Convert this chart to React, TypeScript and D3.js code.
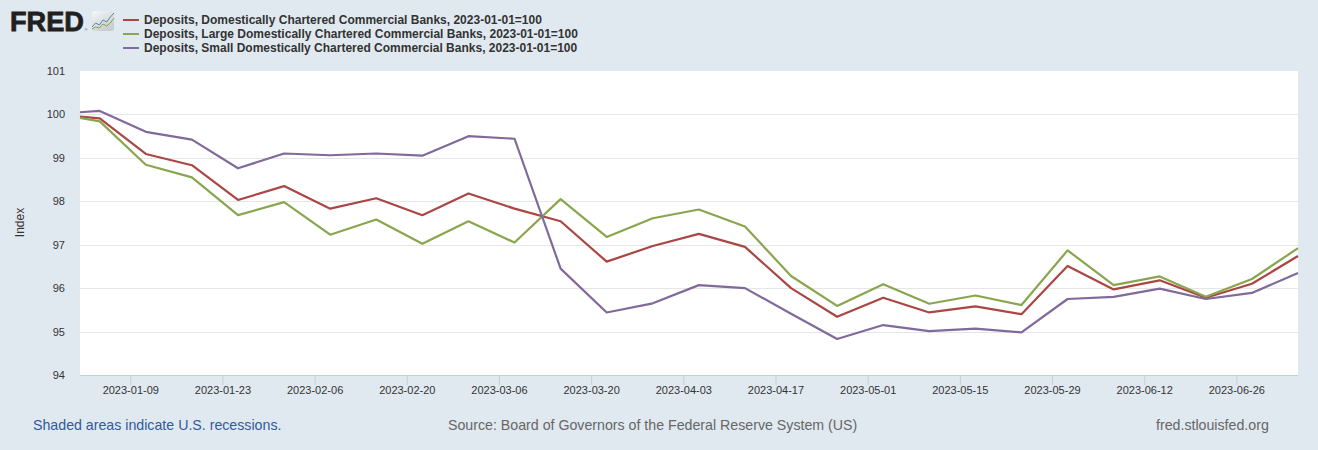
import React, { useEffect, useRef } from 'react';
import * as d3 from 'd3';

const dates = [
  '2023-01-01', '2023-01-04', '2023-01-11', '2023-01-18', '2023-01-25', '2023-02-01', '2023-02-08',
  '2023-02-15', '2023-02-22', '2023-03-01', '2023-03-08', '2023-03-15', '2023-03-22', '2023-03-29',
  '2023-04-05', '2023-04-12', '2023-04-19', '2023-04-26', '2023-05-03', '2023-05-10', '2023-05-17',
  '2023-05-24', '2023-05-31', '2023-06-07', '2023-06-14', '2023-06-21', '2023-06-28', '2023-07-05',
];
const allBanks = [
  99.95, 99.91, 99.09, 98.83, 98.03, 98.35, 97.83, 98.07, 97.68, 98.18, 97.83, 97.54, 96.61, 96.97,
  97.25, 96.95, 96.0, 95.34, 95.78, 95.44, 95.58, 95.4, 96.51, 95.97, 96.18, 95.78, 96.1, 96.74,
];
const largeBanks = [
  99.92, 99.84, 98.84, 98.55, 97.68, 97.98, 97.23, 97.58, 97.02, 97.54, 97.05, 98.05, 97.18, 97.61,
  97.81, 97.42, 96.28, 95.59, 96.09, 95.64, 95.83, 95.61, 96.87, 96.07, 96.27, 95.8, 96.21, 96.92,
];
const smallBanks = [
  100.05, 100.08, 99.6, 99.42, 98.76, 99.1, 99.06, 99.1, 99.05, 99.5, 99.44, 96.45, 95.44, 95.65,
  96.07, 96.0, 95.41, 94.83, 95.15, 95.01, 95.07, 94.98, 95.75, 95.8, 95.99, 95.75, 95.89, 96.35,
];
const seriesNames = [
  'Deposits, Domestically Chartered Commercial Banks, 2023-01-01=100',
  'Deposits, Large Domestically Chartered Commercial Banks, 2023-01-01=100',
  'Deposits, Small Domestically Chartered Commercial Banks, 2023-01-01=100',
];
const seriesColors = ['#aa4643', '#89a54e', '#80699b'];
const xTicks = [
  '2023-01-09', '2023-01-23', '2023-02-06', '2023-02-20', '2023-03-06', '2023-03-20', '2023-04-03',
  '2023-04-17', '2023-05-01', '2023-05-15', '2023-05-29', '2023-06-12', '2023-06-26',
];
const yTicks = [94, 95, 96, 97, 98, 99, 100, 101];
const logoLineA = [3, 7, 5, 10, 8, 13, 17];
const logoLineB = [1, 3, 2, 6, 4, 7, 12];

const FONT = 'Arial, "Liberation Sans", sans-serif';

const App: React.FC = () => {
  const ref = useRef<SVGSVGElement | null>(null);

  useEffect(() => {
    if (!ref.current) return;
    const svg = d3.select(ref.current);
    svg.selectAll('*').remove();

    const margin = { top: 71, right: 20, bottom: 75, left: 80 };
    const width = 1318;
    const height = 450;
    const innerWidth = width - margin.left - margin.right;
    const innerHeight = height - margin.top - margin.bottom;

    svg.append('rect').attr('width', width).attr('height', height).attr('fill', '#e1e9f0');

    const parse = d3.utcParse('%Y-%m-%d');
    const x = d3.scaleUtc()
      .domain([parse(dates[0])!, parse(dates[dates.length - 1])!])
      .range([0, innerWidth]);
    const y = d3.scaleLinear().domain([94, 101]).range([innerHeight, 0]);

    const g = svg.append('g').attr('transform', `translate(${margin.left},${margin.top})`);
    g.append('rect').attr('width', innerWidth).attr('height', innerHeight).attr('fill', '#fff');

    // grid lines
    g.selectAll('.grid-line')
      .data(yTicks.filter(d => d > 94 && d < 101))
      .enter()
      .append('line')
      .attr('x1', 0)
      .attr('x2', innerWidth)
      .attr('y1', d => Math.round(y(d)) + 0.5)
      .attr('y2', d => Math.round(y(d)) + 0.5)
      .attr('stroke', '#e6e6e6');

    // FRED draws its ticks a little left of the data's dates
    const tickShift = -2.4;
    const xAxis = g.append('g')
      .attr('transform', `translate(${tickShift},${innerHeight})`)
      .call(
        d3.axisBottom(x)
          .tickValues(xTicks.map(d => parse(d)!))
          .tickFormat(d => d3.utcFormat('%Y-%m-%d')(d as Date))
          .tickSize(10)
          .tickSizeOuter(0)
      );
    xAxis.select('.domain').remove();
    xAxis.selectAll('line').attr('stroke', '#c0d0e0');
    xAxis.selectAll('text')
      .attr('y', 11)
      .attr('fill', '#333')
      .style('font', `11px ${FONT}`);
    g.append('line')
      .attr('x1', 0)
      .attr('x2', innerWidth)
      .attr('y1', innerHeight + 0.5)
      .attr('y2', innerHeight + 0.5)
      .attr('stroke', '#c0d0e0');

    const yAxis = g.append('g').call(d3.axisLeft(y).tickValues(yTicks).tickFormat(d => String(d)).tickSize(0));
    yAxis.select('.domain').remove();
    yAxis.selectAll('text')
      .attr('x', -15)
      .attr('fill', '#333')
      .style('font', `11px ${FONT}`);

    svg.append('text')
      .attr('transform', `translate(24,222.5) rotate(-90)`)
      .attr('text-anchor', 'middle')
      .attr('fill', '#333')
      .style('font', `12px ${FONT}`)
      .text('Index');

    const line = d3.line<number>()
      .x((_, i) => x(parse(dates[i])!))
      .y(d => y(d))
      .curve(d3.curveLinear);

    [allBanks, largeBanks, smallBanks].forEach((values, i) => {
      g.append('path')
        .attr('d', line(values))
        .attr('fill', 'none')
        .attr('stroke', seriesColors[i])
        .attr('stroke-width', 2.2)
        .attr('stroke-linejoin', 'round');
    });

    // legend
    const legend = svg.append('g');
    seriesNames.forEach((name, i) => {
      const ly = 20 + i * 14;
      legend.append('line')
        .attr('x1', 123)
        .attr('x2', 139)
        .attr('y1', ly)
        .attr('y2', ly)
        .attr('stroke', seriesColors[i])
        .attr('stroke-width', 2);
      legend.append('text')
        .attr('x', 144)
        .attr('y', ly + 4)
        .attr('fill', '#333')
        .style('font', `bold 12px ${FONT}`)
        .text(name);
    });

    // logo
    const logo = svg.append('g');
    logo.append('text')
      .attr('x', 10)
      .attr('y', 31)
      .attr('fill', '#231f20')
      .attr('stroke', '#231f20')
      .attr('stroke-width', 0.8)
      .attr('textLength', 74)
      .attr('lengthAdjust', 'spacingAndGlyphs')
      .style('font', `bold 28px ${FONT}`)
      .text('FRED');
    logo.append('text')
      .attr('x', 84.5)
      .attr('y', 31)
      .attr('fill', '#555')
      .style('font', `4px ${FONT}`)
      .text('®');
    const grad = svg.append('defs').append('linearGradient')
      .attr('id', 'logo-grad')
      .attr('x1', 0)
      .attr('y1', 0)
      .attr('x2', 0.6)
      .attr('y2', 1);
    grad.append('stop').attr('offset', 0).attr('stop-color', '#f6f8f9');
    grad.append('stop').attr('offset', 1).attr('stop-color', '#c9cdd0');
    logo.append('rect')
      .attr('x', 92)
      .attr('y', 11)
      .attr('width', 22)
      .attr('height', 20)
      .attr('rx', 2.5)
      .attr('fill', 'url(#logo-grad)');
    const lx = d3.scaleLinear().domain([0, logoLineA.length - 1]).range([92, 114]);
    const ly = d3.scaleLinear().domain([0, 18]).range([30, 12]);
    [[logoLineA, '#5a86a8'], [logoLineB, '#7fa34e']].forEach(([vals, color]) => {
      logo.append('path')
        .attr('d', d3.line<number>().x((_, i) => lx(i)).y(d => ly(d))(vals as number[]))
        .attr('fill', 'none')
        .attr('stroke', color as string)
        .attr('stroke-width', 1);
    });

    // footer
    const footer = [
      { text: 'Shaded areas indicate U.S. recessions.', x: 33, color: '#2f5a9b' },
      { text: 'Source: Board of Governors of the Federal Reserve System (US)', x: 448, color: '#666' },
      { text: 'fred.stlouisfed.org', x: 1156, color: '#666' },
    ];
    svg.selectAll('.footer')
      .data(footer)
      .enter()
      .append('text')
      .attr('x', d => d.x)
      .attr('y', 430)
      .attr('fill', d => d.color)
      .style('font', `14.2px ${FONT}`)
      .text(d => d.text);
  }, []);

  return (
    <svg
      ref={ref}
      width={1318}
      height={450}
      style={{ position: 'absolute', left: 0, top: 0, display: 'block' }}
    />
  );
};

export default App;
